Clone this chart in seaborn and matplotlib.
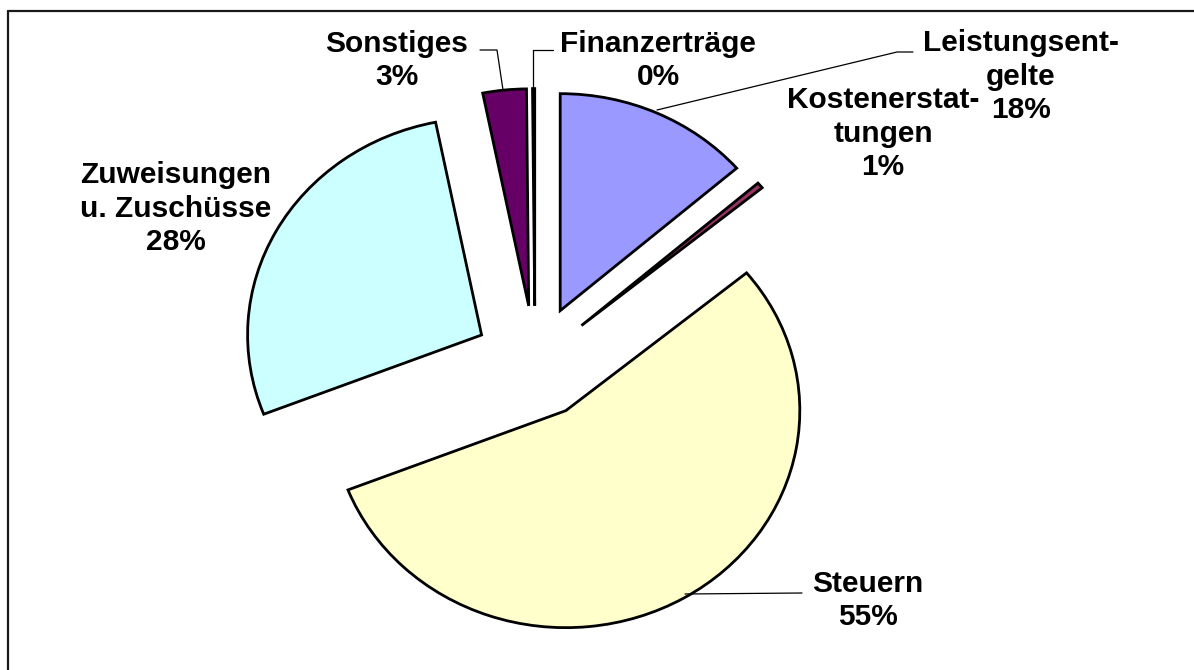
import matplotlib
matplotlib.use("Agg")
import matplotlib.pyplot as plt
import seaborn as sns
from matplotlib.lines import Line2D

# ---- data ----
categories = ["Leistungsentgelte", "Kostenerstattungen", "Steuern",
              "Zuweisungen u. Zuschüsse", "Sonstiges", "Finanzerträge"]
label_texts = ["Leistungsent-\ngelte", "Kostenerstat-\ntungen", "Steuern",
               "Zuweisungen\nu. Zuschüsse", "Sonstiges", "Finanzerträge"]
shares = [13.6, 0.45, 55.0, 27.8, 3.0, 0.15]
pct_labels = ["18%", "1%", "55%", "28%", "3%", "0%"]
colors = ["#9999FF", "#993366", "#FFFFCC", "#CCFFFF", "#660066", "#FF8080"]

sns.set_theme(style="white")
plt.rcParams['font.family'] = ['Liberation Sans', 'DejaVu Sans']

W, H = 1194, 670
fig = plt.figure(figsize=(W / 100, H / 100), dpi=100)
fig.patch.set_facecolor("white")
ax = fig.add_axes([0, 0, 1, 1])

# pixel layout of the pie (image is slightly stretched horizontally)
CX, CY, RX, RY = 535, 362, 234, 217


def px(x, y):
    return ((x - CX) / RX, (CY - y) / RY)


ax.pie(shares, colors=colors, startangle=90, counterclock=False,
       explode=[0.26] * len(shares), radius=1.0,
       wedgeprops=dict(edgecolor="black", linewidth=2.0, joinstyle="miter"))
ax.set_aspect("auto")
x0, _ = px(0, 0)
x1, _ = px(W, 0)
_, y0 = px(0, H)
_, y1 = px(0, 0)
ax.set_xlim(x0, x1)
ax.set_ylim(y0, y1)
ax.axis("off")

# label anchor positions (last-line baseline, pixels)
label_pos = [(1021, 118), (883, 175), (868, 625), (176, 250), (397, 85), (658, 85)]
for txt, pct, (lx, ly) in zip(label_texts, pct_labels, label_pos):
    dx, dy = px(lx, ly)
    ax.text(dx, dy, f"{txt}\n{pct}", ha="center", va="baseline",
            multialignment="center", fontsize=21.5, fontweight="bold",
            color="black", linespacing=1.24)

# leader lines (pixels)
leaders = [
    [(913, 52), (897, 52), (657, 110)],
    [(802, 593), (685, 594)],
    [(480, 50), (497, 50), (503, 90)],
    [(553, 50), (533, 50), (533, 92)],
]
for pts in leaders:
    xs, ys = zip(*[px(a, b) for a, b in pts])
    ax.plot(xs, ys, color="black", linewidth=0.9)

# chart-area frame (only left and top edges visible)
fig.add_artist(Line2D([8 / W, 8 / W], [0, 1 - 11 / H], transform=fig.transFigure,
                      color="#1a1a1a", linewidth=1.6))
fig.add_artist(Line2D([8 / W, 1], [1 - 11 / H, 1 - 11 / H], transform=fig.transFigure,
                      color="#1a1a1a", linewidth=1.6))

fig.savefig("out.png", dpi=100, facecolor="white")
